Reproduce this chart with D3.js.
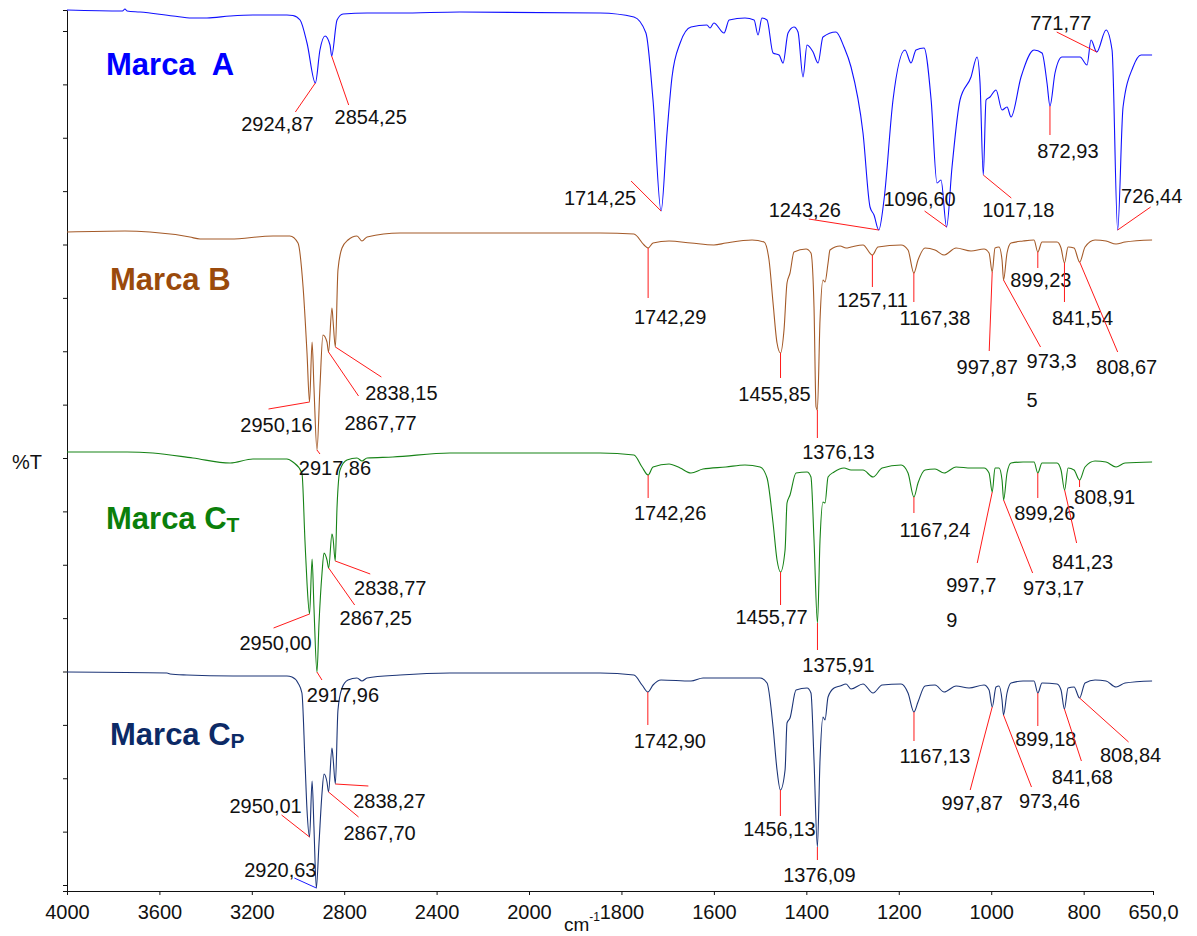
<!DOCTYPE html>
<html>
<head>
<meta charset="utf-8">
<script src="https://cdn.jsdelivr.net/npm/d3@7"></script>
<style>
  body { margin: 0; background: #fff; }
  svg { display: block; font-family: "Liberation Sans", Arial, Helvetica, sans-serif; }
</style>
</head>
<body>
<svg id="chart" width="1197" height="936"></svg>
<script>
// FTIR spectra, stacked %T (arbitrary offset units), wavenumber in cm-1
const specA = [
  [4000,88.1],[3760,88.0],[3749,88.2],[3740,88.0],[3684,87.9],[3541,87.5],[3459,87.3],[3394,87.3],
  [3294,87.5],[3195,87.6],[3048,87.6],[3022,87.55],[2991,87.1],[2961,84.8],[2924.87,80.8],[2905,84.1],
  [2883,85.5],[2861.5,84.6],[2854.25,83.5],[2831,87.1],[2805,87.7],[2701,87.8],[2558,87.8],[2300,87.9],
  [1846,87.8],[1773,87.4],[1747,85.8],[1731.7,79.1],[1714.25,68.0],[1701.4,75.8],[1690.6,81.4],
  [1673,84.8],[1649.5,86.4],[1615,86.6],[1608.4,86.3],[1600,86.8],[1578,85.8],[1567,87.1],[1532.7,87.3],
  [1513,87.1],[1504.5,85.6],[1496,87.3],[1485,87.1],[1472,83.8],[1459,83.6],[1450.4,82.8],[1439.6,85.8],
  [1426.7,86.4],[1418,85.9],[1407.2,81.4],[1398.5,84.6],[1385.5,83.9],[1374.7,82.8],[1364,85.4],
  [1335.8,85.9],[1318.5,84.4],[1303.3,82.4],[1277.4,75.8],[1262.2,68.4],[1253.6,67.6],[1243.26,66.1],
  [1232,69.1],[1212.5,79.1],[1186.5,84.1],[1173.5,82.8],[1162.7,84.1],[1145.4,84.3],[1130,79.1],
  [1117.3,70.8],[1108.6,71.1],[1096.6,66.4],[1084.8,72.4],[1067.5,79.1],[1043.7,81.4],[1030.7,83.4],
  [1024.2,80.8],[1017.18,71.6],[1011.2,79.1],[1002.6,79.4],[989.6,80.1],[976.6,78.1],[965.8,78.4],
  [957.1,77.4],[935.5,81.4],[907.4,84.1],[890.1,83.8],[879.3,80.8],[872.93,78.5],[862,81.8],[846.8,83.4],
  [807.9,83.4],[792.7,82.6],[784.1,85.1],[771.77,83.9],[751.6,86.1],[738.6,84.1],[726.44,66.1],
  [714.8,78.4],[693.2,82.4],[675.8,83.6],[652,83.6]
];
const specB = [
  [4000,65.9],[3749,66.0],[3641,65.9],[3468,65.4],[3424,65.2],[3294,65.2],[3108,65.5],[3035,65.5],
  [3000,64.8],[2978,60.4],[2961,53.8],[2950.16,48.9],[2939,54.9],[2931,50.4],[2917.86,44.1],[2905,50.4],
  [2892,55.6],[2874.5,54.9],[2867.77,53.9],[2853,58.3],[2848.5,57.1],[2838.15,54.4],[2827,62.1],
  [2809.5,64.3],[2783.5,65.1],[2744.6,65.5],[2723,65.0],[2701,65.4],[2558,65.8],[2342,65.8],[1846,65.8],
  [1773,65.7],[1751,64.6],[1742.29,64.3],[1731.7,64.8],[1697,65.0],[1649.5,64.8],[1600,64.6],[1574,64.8],
  [1517.5,65.1],[1491.5,64.9],[1480.7,63.1],[1472,58.8],[1463.4,54.8],[1455.85,53.8],[1448.3,56.1],
  [1441.8,60.8],[1435.3,61.8],[1426.7,63.9],[1400.7,64.2],[1390,63.8],[1383.4,58.4],[1379,48.4],
  [1376.13,48.1],[1370.4,57.1],[1364,61.1],[1359.6,60.9],[1353,62.8],[1348.8,64.1],[1327,64.5],
  [1314,64.3],[1303.3,64.4],[1277.4,64.6],[1257.11,63.6],[1245,64.4],[1195,64.6],[1180,64.1],
  [1167.38,61.8],[1158.4,63.1],[1143.2,64.3],[1121.6,64.1],[1102,63.6],[1076,64.3],[1043.7,64.0],
  [1015.6,64.2],[1004.7,63.8],[997.87,61.9],[991.8,64.3],[983.1,64.4],[976.6,63.1],[973.35,61.1],
  [965.8,63.8],[957.1,64.8],[931.2,65.0],[907.4,65.1],[899.23,63.9],[890.1,64.9],[857.6,64.9],
  [849,64.3],[841.54,62.8],[833.8,64.4],[820.8,64.3],[808.67,62.9],[797,64.4],[775.4,65.1],
  [751.6,65.0],[730,64.7],[710.5,64.9],[652,65.1]
];
const specCT = [
  [4000,43.9],[3740,43.9],[3628,43.8],[3455,43.3],[3294,42.8],[3195,43.2],[3048,43.2],[3022,42.9],
  [2983,41.8],[2970,35.1],[2961,30.8],[2950.00,27.7],[2939,33.2],[2931,28.4],[2917.96,21.9],[2909,26.8],
  [2896,31.8],[2887.5,33.8],[2874.5,33.1],[2867.25,32.3],[2853,35.7],[2848.5,35.3],[2838.77,33.0],
  [2831,38.4],[2818,42.1],[2788,43.1],[2744.6,43.3],[2723,43.0],[2701,43.3],[2589,43.4],[2342,43.8],
  [1846,43.8],[1773,43.6],[1755.5,42.4],[1742.26,41.6],[1731.7,42.4],[1697,42.7],[1673,42.3],
  [1649.5,41.8],[1623.5,42.2],[1574,42.4],[1532.7,42.6],[1500,42.4],[1485,41.3],[1472,36.8],
  [1463.4,33.1],[1455.77,31.9],[1446,34.1],[1441.8,38.8],[1435.3,39.6],[1422.3,41.8],[1398.5,41.9],
  [1390,41.4],[1383.4,35.1],[1375.91,26.8],[1370.4,35.1],[1364,38.9],[1359.6,38.8],[1353,41.4],
  [1340,41.9],[1318.5,42.3],[1303.3,42.1],[1277.4,42.1],[1255.7,41.4],[1236,42.3],[1195,42.6],
  [1180,41.8],[1167.24,39.4],[1158.4,40.8],[1143.2,42.1],[1121.6,42.2],[1102,41.8],[1076,42.4],
  [1043.7,42.3],[1015.6,42.3],[1004.7,41.8],[997.79,39.9],[991.8,42.3],[983.1,42.3],[976.6,41.1],
  [973.17,39.1],[965.8,41.8],[957.1,42.8],[931.2,42.9],[907.4,42.9],[899.26,41.8],[890.1,42.8],
  [857.6,42.8],[849,42.1],[841.23,40.1],[833.8,42.3],[820.8,42.1],[808.91,41.1],[797,42.4],
  [775.4,43.0],[751.6,42.9],[730,42.4],[710.5,42.8],[652,42.9]
];
const specCP = [
  [4000,21.9],[3567,21.8],[3554,21.7],[3481,21.6],[3281,21.5],[3048,21.5],[3026,21.4],[3000,20.8],
  [2983,19.8],[2970,13.1],[2961,8.1],[2950.01,5.4],[2939,11.0],[2931,6.4],[2920.63,0.3],[2909,4.8],
  [2896,9.8],[2887.5,11.7],[2874.5,10.9],[2867.70,9.9],[2853,14.3],[2848.5,13.4],[2838.27,10.7],
  [2827,18.1],[2809.5,20.3],[2783.5,21.1],[2744.6,21.3],[2723,21.0],[2701,21.3],[2558,21.6],[2342,21.8],
  [1846,21.8],[1773,21.6],[1755.5,20.6],[1742.90,19.9],[1731.7,20.6],[1714.4,21.1],[1649.5,21.0],
  [1623.5,21.3],[1500,21.3],[1485,20.8],[1472,16.4],[1463.4,12.1],[1456.13,10.1],[1446,12.1],
  [1441.8,16.8],[1435.3,17.3],[1422.3,20.1],[1398.5,20.3],[1390,19.8],[1383.4,13.1],[1376.09,4.4],
  [1370.4,13.1],[1364,17.4],[1359.6,17.1],[1353,19.4],[1340,20.3],[1327,20.5],[1314,20.7],[1303.3,20.2],
  [1277.4,20.7],[1255.7,19.8],[1236,20.6],[1195,20.7],[1180,19.8],[1167.13,17.9],[1158.4,18.9],
  [1143.2,20.5],[1121.6,20.6],[1102,19.9],[1076,20.5],[1048,20.3],[1015.6,20.6],[1004.7,20.1],
  [997.87,18.4],[989.6,20.4],[983.1,20.5],[976.6,19.1],[973.46,17.6],[965.8,19.8],[957.1,20.8],
  [931.2,21.0],[907.4,21.0],[899.18,19.8],[890.1,20.8],[857.6,20.7],[849,20.1],[841.68,18.2],
  [833.8,20.3],[820.8,20.4],[808.84,19.3],[797,20.8],[775.4,21.1],[751.6,21.0],[730,20.4],
  [710.5,20.8],[652,21.0]
];

// Peak labels (wavenumber as printed)
const peaksA  = ["2924,87","2854,25","1714,25","1243,26","1096,60","1017,18","872,93","771,77","726,44"];
const peaksB  = ["2950,16","2917,86","2867,77","2838,15","1742,29","1455,85","1376,13","1257,11","1167,38","997,87","973,35","899,23","841,54","808,67"];
const peaksCT = ["2950,00","2917,96","2867,25","2838,77","1742,26","1455,77","1375,91","1167,24","997,79","973,17","899,26","841,23","808,91"];
const peaksCP = ["2950,01","2920,63","2867,70","2838,27","1742,90","1456,13","1376,09","1167,13","997,87","973,46","899,18","841,68","808,84"];

// Axis ticks
const xTicks = [4000,3600,3200,2800,2400,2000,1800,1600,1400,1200,1000,800,650];
const xTickLabels = ["4000","3600","3200","2800","2400","2000","1800","1600","1400","1200","1000","800","650,0"];
const yTicks = d3.range(17).map(i => 0.6 + i * 5.3375);

// Label placement: leader end offset (lx,ly) and text offset (tx,ty) from the peak;
// wrap = number of characters kept on the first line (left-aligned block)
const layoutA = [
  {lx:-20,ly:29,tx:-38,ty:41},{lx:17,ly:49,tx:39,ty:61},{lx:-30,ly:-30,tx:-61,ty:-13},
  {lx:-70,ly:-11,tx:-74,ty:-20},{lx:-22,ly:-16,tx:-27,ty:-28},{lx:28,ly:23,tx:35,ty:35},
  {lx:0,ly:29,tx:18,ty:45},{lx:-40,ly:-20,tx:-36,ty:-29},{lx:33,ly:-23,tx:34,ty:-34}
];
const layoutB = [
  {lx:-41,ly:7,tx:-33,ty:23},{lx:3,ly:4,tx:18,ty:18},{lx:30,ly:44,tx:52,ty:71},{lx:46,ly:30,tx:66,ty:46},
  {lx:0,ly:50,tx:22,ty:69},{lx:0,ly:25,tx:-6,ty:41},{lx:0,ly:28,tx:21,ty:42},{lx:0,ly:32,tx:0,ty:45},
  {lx:0,ly:29,tx:21,ty:45},{lx:-3,ly:79,tx:-5,ty:95},{lx:37,ly:67,tx:23,ty:81,wrap:5,gap:39},
  {lx:0,ly:16,tx:3,ty:28},{lx:0,ly:39,tx:18,ty:55},{lx:38,ly:90,tx:47,ty:105}
];
const layoutCT = [
  {lx:-36,ly:14,tx:-34,ty:29},{lx:5,ly:8,tx:26,ty:23},{lx:26,ly:37,tx:47,ty:50},{lx:35,ly:13,tx:55,ty:27},
  {lx:0,ly:23,tx:22,ty:38},{lx:0,ly:33,tx:-9,ty:45},{lx:0,ly:27,tx:21,ty:42},{lx:0,ly:16,tx:21,ty:33},
  {lx:-15,ly:71,tx:-46,ty:93,wrap:5,gap:35},{lx:29,ly:73,tx:50,ty:88},{lx:0,ly:25,tx:7,ty:40},
  {lx:12,ly:53,tx:18,ty:72},{lx:0,ly:7,tx:25,ty:17}
];
const layoutCP = [
  {lx:-28,ly:-22,tx:-44,ty:-31},{lx:-22,ly:-10,tx:-36,ty:-18,leader:"#1a1aff"},{lx:30,ly:25,tx:51,ty:41},
  {lx:33,ly:2,tx:54,ty:17},{lx:0,ly:33,tx:22,ty:49},{lx:0,ly:26,tx:-1,ty:39},{lx:0,ly:13,tx:2,ty:28},
  {lx:0,ly:29,tx:21,ty:44},{lx:-22,ly:83,tx:-20,ty:96},{lx:28,ly:72,tx:46,ty:86},{lx:0,ly:33,tx:8,ty:46},
  {lx:17,ly:52,tx:18,ty:68},{lx:49,ly:44,tx:51,ty:57}
];

const series = [
  {name:"Marca  A", sub:null, data:specA,  peaks:peaksA,  layout:layoutA,  line:"#1010ff", text:"#0000ff", tx:106, ty:75},
  {name:"Marca B",  sub:null, data:specB,  peaks:peaksB,  layout:layoutB,  line:"#a45a28", text:"#9a4a0c", tx:110, ty:290},
  {name:"Marca C",  sub:"T",  data:specCT, peaks:peaksCT, layout:layoutCT, line:"#178317", text:"#0b7f0b", tx:106, ty:529},
  {name:"Marca C",  sub:"P",  data:specCP, peaks:peaksCP, layout:layoutCP, line:"#1c3577", text:"#0c2a66", tx:110, ty:745}
];

const svg = d3.select("#chart");
const x = d3.scaleLinear().domain([4000, 2000, 650]).range([67, 529, 1153]);
const y = d3.scaleLinear().domain([0, 88.1]).range([891, 10]);

// Axes
const xAxis = d3.axisBottom(x).tickValues(xTicks)
  .tickFormat((d, i) => xTickLabels[i]).tickSize(4).tickSizeOuter(0).tickPadding(10);
const gx = svg.append("g").attr("transform", "translate(0,891)").call(xAxis);
gx.selectAll("text").attr("font-size", 20).attr("fill", "#111").attr("font-family", null);
gx.selectAll("path,line").attr("stroke", "#111");

const yAxis = d3.axisLeft(y).tickValues(yTicks).tickFormat("").tickSize(4).tickSizeOuter(4);
const gy = svg.append("g").attr("transform", "translate(67,0)").call(yAxis);
gy.selectAll("path,line").attr("stroke", "#111");

svg.append("text").attr("x", 12).attr("y", 469).attr("font-size", 20).attr("fill", "#111").text("%T");
const unit = svg.append("text").attr("x", 564).attr("y", 931).attr("font-size", 19).attr("fill", "#111");
unit.append("tspan").text("cm");
unit.append("tspan").attr("font-size", 12).attr("dy", -10).text("-1");

// Spectra
const line = d3.line().x(d => x(d[0])).y(d => y(d[1])).curve(d3.curveMonotoneX);
series.forEach(s => {
  svg.append("path").datum(s.data).attr("d", line)
    .attr("fill", "none").attr("stroke", s.line).attr("stroke-width", 1.1);
});

// Peak annotations
const toNum = t => +t.replace(",", ".");
series.forEach(s => {
  s.peaks.forEach((lab, i) => {
    const wn = toNum(lab);
    const pt = s.data.reduce((a, b) => Math.abs(b[0] - wn) < Math.abs(a[0] - wn) ? b : a);
    const px = x(pt[0]), py = y(pt[1]);
    const L = s.layout[i];
    svg.append("line").attr("x1", px).attr("y1", py).attr("x2", px + L.lx).attr("y2", py + L.ly)
      .attr("stroke", L.leader || "#ff1a1a").attr("stroke-width", 1);
    if (L.wrap) {
      const t = svg.append("text").attr("font-size", 20).attr("fill", "#111").attr("text-anchor", "start");
      t.append("tspan").attr("x", px + L.tx).attr("y", py + L.ty).attr("dy", "0.35em").text(lab.slice(0, L.wrap));
      t.append("tspan").attr("x", px + L.tx).attr("y", py + L.ty + L.gap).attr("dy", "0.35em").text(lab.slice(L.wrap));
    } else {
      svg.append("text").attr("x", px + L.tx).attr("y", py + L.ty).attr("dy", "0.35em")
        .attr("font-size", 20).attr("fill", "#111").attr("text-anchor", "middle").text(lab);
    }
  });
});

// Sample names
series.forEach(s => {
  const t = svg.append("text").attr("x", s.tx).attr("y", s.ty)
    .attr("font-size", 31).attr("font-weight", "bold").attr("fill", s.text)
    .style("white-space", "pre");
  t.append("tspan").text(s.name);
  if (s.sub) t.append("tspan").attr("font-size", 21).attr("dy", 3).text(s.sub);
});
</script>
</body>
</html>
